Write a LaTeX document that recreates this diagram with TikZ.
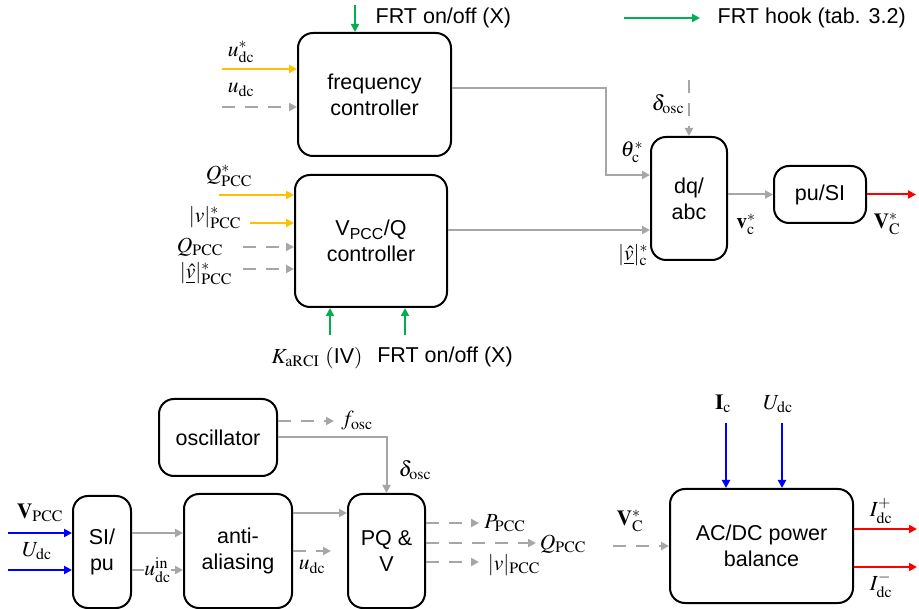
\documentclass[tikz,border=0pt]{standalone}
\usepackage{amsmath}
\usepackage{mathptmx}
\usepackage[no-math]{fontspec}
\setmainfont{Liberation Sans}
\usetikzlibrary{arrows.meta,calc}
\definecolor{cgray}{RGB}{166,166,166}
\definecolor{cyel}{RGB}{255,192,0}
\definecolor{cgrn}{RGB}{0,176,80}
\definecolor{cblu}{RGB}{0,0,255}
\definecolor{cred}{RGB}{255,0,0}
\tikzset{
  every node/.style={font=\fontsize{21.5}{26}\selectfont, inner sep=0.5pt},
  blk/.style={draw=black, line width=2pt, rounded corners=15pt, align=center, inner sep=0pt},
  conn/.style={line width=2pt, -{Triangle[length=8pt,width=8pt]}},
  gr/.style={conn, cgray},
  grd/.style={conn, cgray, dash pattern=on 13pt off 10pt},
  ye/.style={conn, cyel},
  gn/.style={conn, cgrn},
  bl/.style={conn, cblu},
  rd/.style={conn, cred},
  lbl/.style={inner sep=0.5pt, text=black},
}
\begin{document}
\begin{tikzpicture}[x=1pt,y=-1pt]
\useasboundingbox (0,0) rectangle (919,609);
% blocks
\node[blk, minimum width=153pt, minimum height=123pt] (freq) at (374.5,94.5) {frequency\\controller};
\node[blk, minimum width=152pt, minimum height=132pt] (vq) at (371,241) {V\textsubscript{PCC}/Q\\controller};
\node[blk, minimum width=76pt, minimum height=123pt] (dq) at (689,198.5) {dq/\\abc};
\node[blk, minimum width=92pt, minimum height=57pt] (pusi) at (820,194.5) {pu/SI};
\node[blk, minimum width=118pt, minimum height=77pt] (osc) at (218,437.5) {oscillator};
\node[blk, minimum width=58pt, minimum height=112pt] (sipu) at (102,552) {SI/\\pu};
\node[blk, minimum width=108pt, minimum height=114pt] (aa) at (238,551) {anti-\\aliasing};
\node[blk, minimum width=77pt, minimum height=114pt] (pq) at (386.5,551) {PQ \&\\V};
\node[blk, minimum width=183pt, minimum height=114pt] (acdc) at (761.5,546) {AC/DC power\\balance};

% top: frequency controller
\coordinate (frtA) at (355,5);
\draw[gn] (frtA) -- (frtA |- freq.north);
\node[lbl, anchor=west] (frtAl) at (375,18) {FRT on/off (X)};
\coordinate (legA) at (624,18);
\coordinate (legB) at (700,18);
\draw[gn] (legA) -- (legB);
\node[lbl, anchor=west] (legl) at (717,18) {FRT hook (tab. 3.2)};

\node[lbl] (udcs) at (241,52) {$u_{\mathrm{dc}}^{*}$};
\node[lbl] (udc) at (241,90) {$u_{\mathrm{dc}}$};
\coordinate (fin1) at (222,69);
\coordinate (fin2) at (222,107);
\draw[ye] (fin1) -- (fin1 -| freq.west);
\draw[grd] (fin2) -- (fin2 -| freq.west);

% frequency controller -> dq/abc
\coordinate (fout) at (451,88);
\coordinate (fbend) at (606,175);
\draw[gr] (fout -| freq.east) -- (fbend |- fout) -- (fbend) -- (fbend -| dq.west);
\node[lbl] (theta) at (632,152) {$\theta_{\mathrm{c}}^{*}$};
\coordinate (dtop) at (689,80);
\draw[grd] (dtop) -- (dq.north);
\node[lbl] (dosc1) at (668,104) {$\delta_{\mathrm{osc}}$};

% Vpcc/Q inputs
\node[lbl] (qs) at (229,176) {$Q_{\mathrm{PCC}}^{*}$};
\node[lbl] (vs) at (215,218) {$\lvert v\rvert_{\mathrm{PCC}}^{*}$};
\node[lbl] (qp) at (200,247) {$Q_{\mathrm{PCC}}$};
\node[lbl] (vh) at (206,274) {$\lvert\underline{\hat{v}}\rvert_{\mathrm{PCC}}^{*}$};
\coordinate (vin1) at (219,195);
\coordinate (vin2) at (250,223);
\coordinate (vin3) at (243,247);
\coordinate (vin4) at (243,269);
\draw[ye] (vin1) -- (vin1 -| vq.west);
\draw[ye] (vin2) -- (vin2 -| vq.west);
\draw[grd] (vin3) -- (vin3 -| vq.west);
\draw[grd] (vin4) -- (vin4 -| vq.west);
\coordinate (gb1) at (330,335);
\coordinate (gb2) at (405,335);
\draw[gn] (gb1) -- (gb1 |- vq.south);
\draw[gn] (gb2) -- (gb2 |- vq.south);
\node[lbl] (karci) at (317,358) {$K_{\mathrm{aRCI}}$ $($IV$)$};
\node[lbl] (frtB) at (445,357) {FRT on/off (X)};

% Vpcc/Q -> dq/abc
\coordinate (vout) at (447,230);
\draw[gr] (vout -| vq.east) -- (vout -| dq.west);
\node[lbl] (vhc) at (633,255) {$\lvert\underline{\hat{v}}\rvert_{\mathrm{c}}^{*}$};

% dq/abc -> pu/SI -> out
\draw[gr] (dq.east |- pusi.west) -- (pusi.west);
\node[lbl] (vc) at (746,224) {$\mathbf{v}_{\mathrm{c}}^{*}$};
\coordinate (redout) at (916,194.5);
\draw[rd] (pusi.east) -- (redout);
\node[lbl] (VC) at (887,224) {$\mathbf{V}_{\mathrm{C}}^{*}$};

% bottom left
\node[lbl] (vpcc) at (40,513) {$\mathbf{V}_{\mathrm{PCC}}$};
\node[lbl] (Udc) at (37,551) {$U_{\mathrm{dc}}$};
\coordinate (bin1) at (8,533);
\coordinate (bin2) at (8,570);
\draw[bl] (bin1) -- (bin1 -| sipu.west);
\draw[bl] (bin2) -- (bin2 -| sipu.west);
\draw[gr] (bin1 -| sipu.east) -- (bin1 -| aa.west);
\draw[gr] (bin2 -| sipu.east) -- (bin2 -| aa.west)
  node[midway, fill=white, inner sep=0.5pt, text=black] (udcin) {$u_{\mathrm{dc}}^{\mathrm{in}}$};

% anti-aliasing -> PQ&V
\coordinate (aout) at (292,513);
\draw[gr] (aout -| aa.east) -- (aout -| pq.west);
\coordinate (aout2) at (331,551);
\draw[grd] (aa.east |- aout2) -- (aout2);
\node[lbl] (udcb) at (312,567) {$u_{\mathrm{dc}}$};

% oscillator
\coordinate (fo) at (334,421);
\draw[grd] (fo -| osc.east) -- (fo);
\node[lbl] (fosc) at (357,421) {$f_{\mathrm{osc}}$};
\draw[gr] (osc.east) -| (pq.north);
\node[lbl] (dosc2) at (415,470) {$\delta_{\mathrm{osc}}$};

% PQ&V outputs
\coordinate (po1) at (479,523);
\coordinate (po2) at (536,543);
\coordinate (po3) at (479,562);
\draw[grd] (po1 -| pq.east) -- (po1);
\draw[grd] (po2 -| pq.east) -- (po2);
\draw[grd] (po3 -| pq.east) -- (po3);
\node[lbl] (ppcc) at (505,523) {$P_{\mathrm{PCC}}$};
\node[lbl] (qpcc) at (563,544) {$Q_{\mathrm{PCC}}$};
\node[lbl] (vpccb) at (514,565) {$\lvert v\rvert_{\mathrm{PCC}}$};

% AC/DC power balance
\coordinate (ain) at (613,546);
\draw[grd] (ain) -- (ain -| acdc.west);
\node[lbl] (VCb) at (630,521) {$\mathbf{V}_{\mathrm{C}}^{*}$};
\coordinate (ic) at (726,423);
\coordinate (ud) at (782,423);
\draw[bl] (ic) -- (ic |- acdc.north);
\draw[bl] (ud) -- (ud |- acdc.north);
\node[lbl] (Ic) at (723,404) {$\mathbf{I}_{\mathrm{c}}$};
\node[lbl] (Udc2) at (778,404) {$U_{\mathrm{dc}}$};
\coordinate (ro1) at (917,529);
\coordinate (ro2) at (917,567);
\draw[rd] (ro1 -| acdc.east) -- (ro1);
\draw[rd] (ro2 -| acdc.east) -- (ro2);
\node[lbl] (Ip) at (881,511) {$I_{\mathrm{dc}}^{+}$};
\node[lbl] (Im) at (881,585) {$I_{\mathrm{dc}}^{-}$};
\end{tikzpicture}
\end{document}
